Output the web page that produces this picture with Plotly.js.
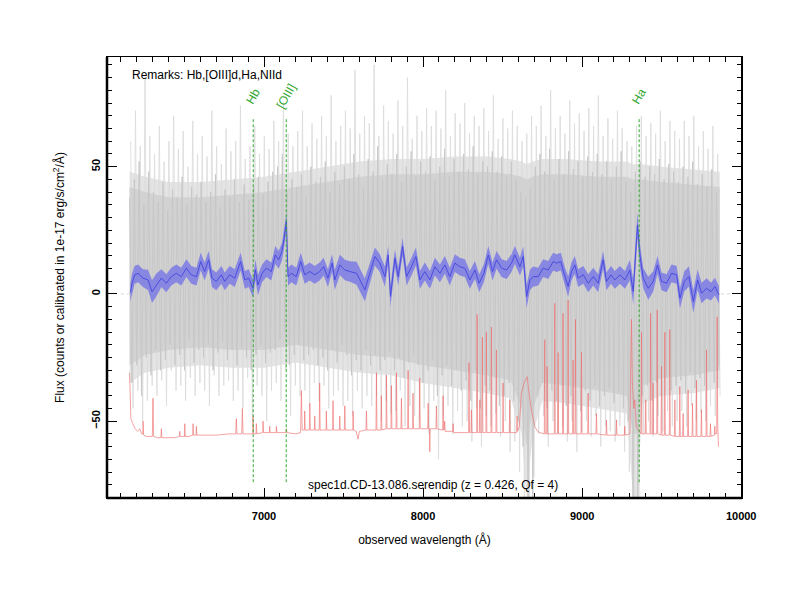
<!DOCTYPE html>
<html><head><meta charset="utf-8">
<script src="https://cdn.plot.ly/plotly-3.0.1.min.js"></script>
<style>body{margin:0;background:#fff}#chart{width:800px;height:600px}</style>
</head><body><div id="chart"></div>
<script>
// ---- data ----
const redshift = 0.426;
const qualityFlag = 4;
const objectName = 'spec1d.CD-13.086.serendip';
const remarks = 'Remarks: Hb,[OIII]d,Ha,NIId';
const lineNames = ['Hb', '[OIII]', 'Ha'];
const lineRest = [4861.3, 5006.8, 6562.8];

// envelope of the raw (noisy) spectrum
const bandWave = [6155,6250,6400,6600,6800,7000,7200,7400,7600,7800,8000,8200,8400,8550,8620,8650,8690,8750,8900,9100,9280,9320,9345,9380,9500,9700,9865];
const darkHi  = [42,40,38,38,39,40,42,44,46,47,47,48,48,47,46,45,46,47,47,46,46,45,45,45,44,43,42];
const darkLo  = [-28,-24,-22,-21,-22,-22,-20,-22,-24,-25,-28,-30,-32,-34,-45,-60,-45,-35,-36,-38,-40,-55,-55,-36,-33,-32,-30];
const lightHi = [48,46,44,44,45,46,48,50,52,53,53,54,54,53,52,51,52,53,53,52,52,51,51,51,50,49,48];
const lightLo = [-35,-31,-29,-28,-29,-29,-27,-29,-31,-32,-35,-37,-39,-41,-55,-80,-55,-42,-43,-45,-47,-80,-80,-43,-40,-39,-37];

// raw spectrum, dark grey: regular sampling start/step (Å)
const greyDarkStart = 6155, greyStep = 15;
const greyDark = [
38,-35,45,-28,52,-40,35,-25,48,-32,
40,-22,36,-30,44,-26,33,-20,41,-28,
38,-24,46,-30,35,-18,42,-27,39,-22,
44,-25,36,-20,40,-30,47,-23,34,-19,
41,-26,38,-22,45,-28,36,-21,43,-25,
37,-30,42,-24,46,-20,39,-27,44,-23,
48,-22,50,-18,55,-15,40,-28,45,-24,
42,-20,47,-26,38,-24,50,-22,44,-28,
46,-25,52,-30,40,-22,48,-27,43,-20,
50,-24,45,-32,55,-26,47,-30,42,-22,
53,-28,48,-24,58,-30,45,-26,51,-23,
47,-30,55,-25,44,-33,50,-27,56,-24,
46,-28,52,-35,48,-30,54,-26,45,-40,
50,-32,57,-28,46,-36,53,-30,48,-38,
55,-34,49,-42,58,-30,47,-45,52,-36,
50,-38,56,-33,48,-44,54,-40,46,-35,
52,-42,45,-50,40,-60,38,-82,42,-82,
50,-40,55,-35,48,-45,57,-38,45,-42,
53,-36,47,-44,56,-40,49,-35,52,-46,
46,-38,54,-42,48,-36,55,-44,47,-40,
52,-37,45,-43,50,-39,56,-45,44,-50,
40,-82,48,-82,52,-40,46,-36,50,-42,
47,-35,53,-40,45,-33,51,-38,48,-36,
44,-34,50,-39,46,-31,52,-37,43,-33,
47,-36,42,-30,49,-35,40,-28];

// raw spectrum, light grey outer spikes
const greyLightStart = 6162;
const greyLight = [
60,-45,72,-38,58,-50,85,-42,62,-36,
55,-40,66,-34,52,-44,60,-30,70,-38,
57,-36,64,-42,50,-33,68,-40,55,-35,
62,-38,54,-44,72,-32,58,-40,51,-36,
65,-34,56,-42,60,-38,74,-45,53,-33,
58,-48,66,-36,55,-40,62,-50,57,-38,
68,-35,60,-42,75,-30,63,-48,58,-36,
64,-40,72,-38,58,-44,67,-35,61,-42,
70,-36,62,-45,78,-40,60,-38,66,-44,
72,-42,65,-48,88,-38,63,-45,70,-40,
67,-44,90,-40,62,-50,74,-42,68,-47,
63,-46,76,-38,66,-52,85,-44,61,-48,
70,-50,64,-45,73,-55,66,-42,72,-65,
65,-48,80,-44,62,-55,71,-46,67,-52,
75,-50,63,-58,70,-45,66,-60,73,-48,
64,-52,78,-47,61,-56,69,-50,65,-62,
72,-58,66,-70,60,-82,63,-82,70,-72,
66,-55,74,-48,62,-60,80,-50,65,-55,
70,-52,63,-58,76,-50,67,-62,71,-54,
64,-50,73,-56,66,-48,78,-60,62,-52,
69,-54,61,-58,72,-52,65,-62,60,-70,
58,-82,66,-82,70,-55,62,-50,67,-56,
63,-48,72,-54,60,-46,68,-52,64,-50,
61,-46,68,-52,62,-44,70,-50,58,-47,
64,-50,57,-44,66,-48,55,-40];

// sky spectrum (red)
const skyWave = [6155,6158,6163,6175,6190,6205,6220,6230,6238,6240,6243,6260,6280,6298,6302,6306,6330,6352,6355,6358,
6400,6440,6468,6470,6473,6500,6502,6505,6530,6552,6554,6557,6573,6575,6578,6620,6700,6780,6822,6826,
6830,6860,6864,6868,6900,6929,6931,6934,6950,6952,6955,6992,6994,6997,7034,7036,7039,7076,7078,7081,
7139,7141,7144,7200,7230,7235,7240,7254,7256,7259,7285,7288,7291,7317,7319,7322,7347,7350,7353,7390,
7392,7395,7431,7434,7437,7474,7476,7479,7505,7508,7511,7558,7560,7563,7580,7591,7600,7641,7644,7647,
7704,7707,7710,7735,7738,7741,7767,7770,7773,7798,7801,7804,7830,7833,7836,7861,7864,7867,7903,7906,
7909,7934,7937,7940,7976,7979,7982,8029,8032,8035,8040,8042,8045,8081,8084,8087,8123,8126,8129,8133,
8136,8139,8186,8189,8192,8286,8289,8292,8301,8304,8307,8337,8340,8343,8354,8357,8360,8370,8373,8376,
8395,8398,8401,8427,8430,8433,8458,8461,8464,8500,8503,8506,8542,8545,8548,8588,8591,8594,8605,8618,
8635,8654,8668,8681,8702,8720,8734,8762,8765,8768,8777,8780,8783,8825,8828,8831,8846,8849,8852,8877,
8880,8883,8909,8912,8915,8940,8943,8946,8955,8958,8961,8993,8996,8999,9035,9038,9041,9087,9090,9093,
9150,9153,9156,9213,9216,9219,9265,9268,9271,9300,9305,9310,9316,9325,9331,9340,9370,9373,9376,9397,
9400,9403,9427,9430,9433,9443,9446,9449,9469,9472,9475,9496,9499,9502,9517,9520,9523,9548,9551,9554,
9580,9583,9586,9611,9614,9617,9632,9635,9638,9663,9666,9669,9691,9694,9697,9716,9719,9722,9747,9750,
9753,9779,9782,9785,9804,9807,9810,9831,9834,9837,9846,9849,9852,9857];
const skyFlux = [-31,-45,-49,-51,-53,-54,-53,-55,-55,-50,-55.5,-56,-56,-56,-41,-56,-56.5,-56.5,-53,-56.5,
-56.5,-56.5,-56,-54,-56,-56,-51,-56,-56,-55.5,-51,-55.5,-55.5,-52,-55.5,-55.5,-55.5,-55,-55,-49,
-55,-55,-45,-55,-55,-55,-48,-55,-55,-51,-55,-54.5,-50,-54.5,-54.5,-52,-54.5,-54.5,-52,-54.5,
-54.5,-53,-54.5,-55,-54.5,-38,-53.5,-53.5,-46,-53.5,-53.5,-43,-53.5,-53.5,-48,-53.5,-53.5,-35,-53.5,-53.5,
-46,-53.5,-53.5,-42,-53.5,-53.5,-48,-53.5,-53.5,-44,-53.5,-53.5,-46,-53.5,-54,-57,-54,-53.5,-46,-53.5,
-53.5,-31,-53.5,-53.5,-40,-53.5,-53,-32,-53,-53,-36,-53,-53,-31,-53,-53,-41,-53,-53,-30,
-53,-53,-39,-53,-53,-33,-53,-53,-43,-53,-53,-62,-53,-53,-44,-53,-53.5,-40,-53.5,-53.5,
-50,-54,-54,-51,-54.5,-54.5,-27,-54.5,-54.5,-45.6,-54.5,-54.5,-8,-54.5,-54.5,-41.6,-54.5,-54.5,-17,-54.5,
-54.5,-15,-54.5,-54.5,-13,-54.5,-54.5,-22,-54.5,-54.5,-35,-54.5,-54.5,-41.6,-54.5,-54.5,-48,-54,-52,-39,
-35,-32.5,-40,-45.6,-52,-54,-54.5,-55,-18,-55,-55,-28.5,-55,-55,-3.7,-55,-55,-23,-55,-55,
-7.6,-55,-55,-2.4,-55,-55,-26,-55,-55,-10,-55,-55,-23,-55,-55,-39,-55,-55,-47,-55,
-55.5,-49.5,-55.5,-55.5,-49.5,-55.5,-55.5,-52,-55.5,-55,-30,-10,-35,-45,-41.6,-52,-55,-15,-55,-55,
-41.6,-55,-55,-7.6,-55,-55,-35,-55,-55,-6.3,-55,-55.5,-28.5,-55.5,-55.5,-15,-55.5,-55.5,-14,-55.5,
-56,-41.6,-56,-56,-36.4,-56,-56,-47,-56,-56,-37.7,-56,-56,-43,-56,-56,-34,-56,-56,-45.5,
-56,-56,-22,-56,-56,-51,-56,-55.5,-52,-55,-55,-9,-50,-60];

// smoothed spectrum (blue) and its error band
const smoothWave = [6160,6170,6187,6208,6239,6271,6296,6323,6355,6386,
6417,6449,6480,6512,6543,6575,6602,6627,6652,6673,
6700,6732,6753,6784,6816,6853,6879,6904,6931,6946,
6962,6988,7015,7046,7071,7092,7113,7130,7141,7151,
7172,7203,7231,7256,7287,7319,7350,7375,7402,7428,
7445,7477,7508,7540,7582,7634,7666,7697,7728,7760,
7781,7795,7823,7844,7871,7896,7927,7955,7980,8011,
8043,8074,8106,8137,8168,8200,8231,8263,8294,8326,
8353,8382,8410,8437,8462,8494,8525,8556,8577,8609,
8630,8651,8672,8692,8724,8755,8787,8818,8839,8866,
8892,8912,8933,8954,8975,9007,9038,9070,9101,9132,
9153,9181,9206,9237,9269,9300,9321,9336,9348,9363,
9384,9416,9447,9474,9499,9531,9562,9594,9615,9642,
9671,9699,9726,9751,9782,9810,9835,9860];
const smoothFlux = [0.5,4,7.5,8.1,6.2,5.5,0.9,3.5,6.2,4.2,
6.8,8.1,6.8,10.1,7.5,6.8,12.7,8.8,13.4,6.2,
4.9,7.5,4.9,7.5,6.2,12.7,5.5,6.2,2.2,9.5,
3.5,8.1,10.1,8.8,15.3,13.4,16.6,23.2,28.4,6.8,
8.1,6.8,12.7,7.5,8.8,7.5,8.8,10.7,6.2,12.1,
5.5,11.4,9.4,8.8,8.1,1.6,8.1,14.7,12.1,6.8,
15.3,-1.0,14.0,6.8,18.6,6.8,10.7,14.7,5.5,8.8,
5.5,10.7,8.1,11.4,6.8,12.1,10.7,10.1,5.5,9.4,
4.2,8.1,15.3,8.8,13.4,10.1,9.4,12.1,15.3,10.7,
14.7,-1.0,5.5,6.8,6.8,10.1,9.4,12.7,12.1,12.7,
6.8,2.9,8.8,11.4,6.2,7.5,4.2,6.8,4.2,13.4,
4.9,7.5,5.5,7.5,5.5,9.4,0.9,18.0,27.1,15.3,
6.2,2.2,4.9,11.4,4.9,4.2,8.1,7.5,-1.7,4.9,
6.8,-3.0,5.5,0.3,2.2,0.9,2.9,-0.4];
const smoothErr = [3.5,4,3.5,3.5,3.5,4,4.5,4.5,3.5,3.5,
3.5,3.5,3.5,3.5,3.5,3.5,3.5,3.5,3.5,3.5,
3.5,3.5,3.5,3.5,3.5,3.5,3.5,3.5,3.5,4,
4,3.5,3.5,3.5,3.5,3.5,3.5,3.5,3.5,3.5,
3.5,3.5,3.5,3.5,3.5,3.5,3.5,3.5,3.5,3.5,
4,4,4,4,4.5,4.5,4,3.5,3.5,4,
3.5,4,3.5,3.5,3.5,3.5,3.5,3.5,3.5,3.5,
3.5,3.5,3.5,3.5,3.5,3.5,3.5,3.5,3.5,3.5,
3.5,3.5,3.5,3.5,3.5,3.5,3.5,3.5,3.5,3.5,
4,4.5,4,4,3.5,3.5,3.5,3.5,3.5,3.5,
3.5,4,3.5,3.5,3.5,3.5,3.5,3.5,3.5,3.5,
3.5,3.5,3.5,3.5,3.5,4,5,5,5,4.5,
4,4.5,4,3.5,3.5,3.5,3.5,3.5,4,4,
4,4.5,4,4,4,3.5,3.5,3.5];

// axis ranges
const xRange = [6013, 10005];
const yRange = [-80.2, 93.1];
const lineYTop = 69, lineYBottom = -74, labelY = 77.8;

// ---- build ----
const lineWave = lineRest.map(w => w * (1 + redshift));
const upper = smoothFlux.map((f, i) => f + smoothErr[i]);
const lower = smoothFlux.map((f, i) => f - smoothErr[i]);
const noLine = {width:0, color:'rgba(0,0,0,0)'};

const traces = [
  {type:'scatter', mode:'lines', x:bandWave, y:lightLo, line:noLine, hoverinfo:'skip'},
  {type:'scatter', mode:'lines', x:bandWave, y:lightHi, line:noLine, fill:'tonexty', fillcolor:'#e4e4e4', hoverinfo:'skip'},
  {type:'scatter', mode:'lines', x0:greyLightStart, dx:greyStep, y:greyLight,
   line:{color:'#dddddd', width:0.9}, hoverinfo:'skip'},
  {type:'scatter', mode:'lines', x:bandWave, y:darkLo, line:noLine, hoverinfo:'skip'},
  {type:'scatter', mode:'lines', x:bandWave, y:darkHi, line:noLine, fill:'tonexty', fillcolor:'#d2d2d2', hoverinfo:'skip'},
  {type:'scatter', mode:'lines', x0:greyDarkStart, dx:greyStep, y:greyDark,
   line:{color:'#c6c6c6', width:0.9}, hoverinfo:'skip'},
  {type:'scatter', mode:'lines', x:skyWave, y:skyFlux,
   line:{color:'rgba(238,110,110,0.8)', width:0.8}},
  {type:'scatter', mode:'lines', x:smoothWave, y:lower, line:noLine, hoverinfo:'skip'},
  {type:'scatter', mode:'lines', x:smoothWave, y:upper, fill:'tonexty',
   fillcolor:'rgba(118,118,230,0.8)', line:noLine, hoverinfo:'skip'},
  {type:'scatter', mode:'lines', x:smoothWave, y:smoothFlux,
   line:{color:'#4545dc', width:0.9}}
];

const green = '#33a833';
const shapes = [
  {type:'line', xref:'x', yref:'y', x0:6100, x1:9950, y0:0, y1:0, layer:'below',
   line:{color:'#d6d6d6', width:1, dash:'dot'}},
  {type:'line', xref:'paper', yref:'paper', x0:0, x1:0, y0:0, y1:1, line:{color:'#000', width:2.5}},
  {type:'line', xref:'paper', yref:'paper', x0:0, x1:1, y0:0, y1:0, line:{color:'#000', width:2.5}},
  {type:'line', xref:'paper', yref:'paper', x0:1, x1:1, y0:0, y1:1, line:{color:'#000', width:2}}
];
const annotations = [];
lineWave.forEach((w, i) => {
  shapes.push({type:'line', xref:'x', yref:'y', x0:w, x1:w, y0:lineYBottom, y1:lineYTop,
    line:{color:green, width:1, dash:'3px,2px'}});
  annotations.push({x:w, y:labelY, xref:'x', yref:'y', text:lineNames[i], showarrow:false,
    textangle:-60, xanchor:'center', yanchor:'middle',
    font:{family:'Liberation Sans, Arial, sans-serif', size:12, color:green}});
});
annotations.push({xref:'paper', yref:'paper', x:0.0355, y:0.959, xanchor:'left', yanchor:'middle',
  text:remarks, showarrow:false, font:{family:'Liberation Sans, Arial, sans-serif', size:12, color:'#000'}});
annotations.push({xref:'paper', yref:'paper', x:0.514, y:0.030, xanchor:'center', yanchor:'middle',
  text:objectName + ' (z = ' + redshift.toFixed(3) + ', Qf = ' + qualityFlag + ')', showarrow:false,
  font:{family:'Liberation Sans, Arial, sans-serif', size:12, color:'#000'}});

const tickFont = {family:'Liberation Sans, Arial, sans-serif', size:11, color:'#000', weight:'bold'};
const layout = {
  width:800, height:600,
  margin:{l:107, r:58, t:57, b:102, pad:0},
  paper_bgcolor:'#fff', plot_bgcolor:'#fff',
  showlegend:false,
  xaxis:{range:xRange, showgrid:false, zeroline:false, showline:true, linecolor:'#000', linewidth:1,
    mirror:'ticks', ticks:'inside', ticklen:10, tickwidth:1, tickcolor:'#000', dtick:1000, tick0:0, tickformat:'d',
    minor:{ticks:'inside', dtick:100, tick0:0, ticklen:5, tickwidth:1, tickcolor:'#000', showgrid:false},
    tickfont:tickFont, ticklabelstandoff:8,
    title:{text:'observed wavelength (Å)', font:{family:'Liberation Sans, Arial, sans-serif', size:12, color:'#000'}, standoff:14}},
  yaxis:{range:yRange, showgrid:false, zeroline:false, showline:true, linecolor:'#000', linewidth:1,
    mirror:'ticks', ticks:'inside', ticklen:10, tickwidth:1, tickcolor:'#000', dtick:50, tick0:0,
    minor:{ticks:'inside', dtick:5, tick0:0, ticklen:5, tickwidth:1, tickcolor:'#000', showgrid:false},
    tickfont:tickFont, tickangle:-90, ticklabelstandoff:2,
    title:{text:'Flux (counts or calibrated in 1e-17 erg/s/cm<sup>2</sup>/Å)', font:{family:'Liberation Sans, Arial, sans-serif', size:12, color:'#000'}, standoff:22}},
  shapes:shapes, annotations:annotations
};
Plotly.newPlot('chart', traces, layout, {staticPlot:true, displayModeBar:false});
</script></body></html>
